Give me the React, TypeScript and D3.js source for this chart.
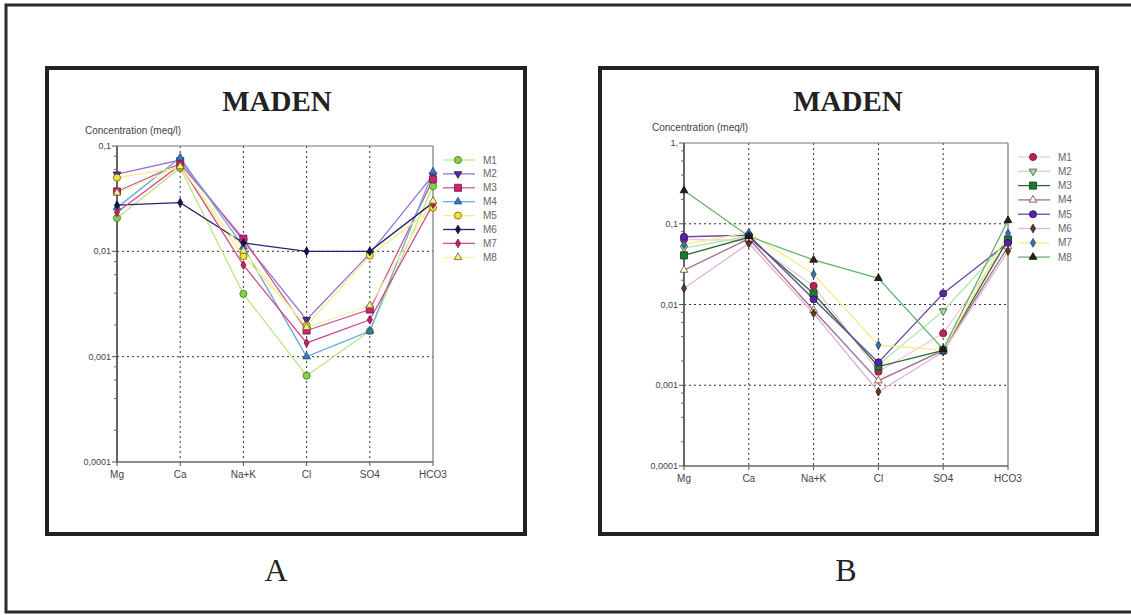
import React from "react";
import * as d3 from "d3";

const categories = ["Mg", "Ca", "Na+K", "Cl", "SO4", "HCO3"];
const seriesNames = ["M1", "M2", "M3", "M4", "M5", "M6", "M7", "M8"];

// Chart A values (meq/l)
const aM1 = [0.0207, 0.062, 0.00395, 0.00066, 0.00175, 0.0416];
const aM2 = [0.054, 0.0736, 0.0125, 0.00224, 0.0095, 0.053];
const aM3 = [0.037, 0.068, 0.0132, 0.00177, 0.0028, 0.0482];
const aM4 = [0.026, 0.0774, 0.011, 0.001, 0.00175, 0.0569];
const aM5 = [0.05, 0.0626, 0.009, 0.00197, 0.0091, 0.026];
const aM6 = [0.0274, 0.029, 0.012, 0.01, 0.01, 0.029];
const aM7 = [0.0235, 0.066, 0.0074, 0.00135, 0.00224, 0.028];
const aM8 = [0.036, 0.064, 0.0101, 0.0019, 0.00306, 0.03];

// Chart B values (meq/l)
const bM1 = [0.064, 0.062, 0.017, 0.00147, 0.0044, 0.06];
const bM2 = [0.05, 0.07, 0.012, 0.0018, 0.0083, 0.062];
const bM3 = [0.0406, 0.068, 0.0137, 0.0017, 0.0027, 0.064];
const bM4 = [0.0267, 0.065, 0.0085, 0.00114, 0.0027, 0.052];
const bM5 = [0.069, 0.072, 0.0116, 0.00192, 0.0137, 0.058];
const bM6 = [0.0159, 0.057, 0.0078, 0.00083, 0.0026, 0.0459];
const bM7 = [0.0555, 0.0775, 0.0237, 0.00315, 0.0027, 0.076];
const bM8 = [0.2577, 0.07, 0.0356, 0.0211, 0.0028, 0.11];

const yTicksA = [0.1, 0.01, 0.001, 0.0001];
const yLabelsA = ["0,1", "0,01", "0,001", "0,0001"];
const yTicksB = [1, 0.1, 0.01, 0.001, 0.0001];
const yLabelsB = ["1,", "0,1", "0,01", "0,001", "0,0001"];

type Style = { line: string; fill: string; stroke: string; shape: string; size: number };

const stylesA: Style[] = [
  { line: "#bfe58a", fill: "#86d04a", stroke: "#3c7a1c", shape: "circle", size: 40 },
  { line: "#9b6fd0", fill: "#4a2f8c", stroke: "#2a1a5a", shape: "tridown", size: 26 },
  { line: "#c95a94", fill: "#c8286e", stroke: "#7a1040", shape: "square", size: 50 },
  { line: "#6aaad8", fill: "#3a78b8", stroke: "#1f4f80", shape: "triangle", size: 26 },
  { line: "#f2ef8a", fill: "#f2e43a", stroke: "#6a6010", shape: "circle", size: 40 },
  { line: "#23246e", fill: "#141650", stroke: "#0a0a30", shape: "diamond", size: 22 },
  { line: "#d2488a", fill: "#c22062", stroke: "#7a1040", shape: "diamond", size: 22 },
  { line: "#f4f2a6", fill: "#f4f090", stroke: "#6a6020", shape: "triangle", size: 26 },
];

const stylesB: Style[] = [
  { line: "#f2c6dc", fill: "#b42656", stroke: "#6a1030", shape: "circle", size: 40 },
  { line: "#b8e2b4", fill: "#a8d8a0", stroke: "#3a5a3a", shape: "tridown", size: 26 },
  { line: "#2e6a30", fill: "#1f7a30", stroke: "#0f3a14", shape: "square", size: 50 },
  { line: "#a07090", fill: "#fff8e8", stroke: "#6a4a3a", shape: "triangle", size: 26 },
  { line: "#6a48a8", fill: "#5424a4", stroke: "#2a1060", shape: "circle", size: 40 },
  { line: "#e2b4d8", fill: "#5c3c22", stroke: "#2e1e10", shape: "diamond", size: 22 },
  { line: "#f2ef8a", fill: "#3a70b0", stroke: "#1f4070", shape: "diamond", size: 22 },
  { line: "#64b468", fill: "#2a1c1c", stroke: "#100a0a", shape: "triangle", size: 26 },
];

const symbolPath = (shape: string, size: number) => {
  const t =
    shape === "circle" ? d3.symbolCircle :
    shape === "square" ? d3.symbolSquare :
    shape === "diamond" ? d3.symbolDiamond :
    d3.symbolTriangle;
  return d3.symbol().type(t).size(size)() as string;
};

type ChartProps = {
  series: number[][];
  styles: Style[];
  yTicks: number[];
  yLabels: string[];
  x0: number; x1: number; y0: number; y1: number;
  titleX: number; titleY: number;
  unitX: number; unitY: number;
  legLine: [number, number]; legMarker: number; legText: number; legY0: number; legStep: number;
};

function Chart(p: ChartProps) {
  const x = d3.scalePoint<string>().domain(categories).range([p.x0, p.x1]);
  const yMin = d3.min(p.yTicks) as number;
  const yMax = d3.max(p.yTicks) as number;
  const y = d3.scaleLog().domain([yMin, yMax]).range([p.y1, p.y0]);
  const line = d3.line<number>().x((_, i) => x(categories[i]) as number).y((v) => y(v));
  const minor: number[] = [];
  for (let k = Math.log10(yMin); k < Math.log10(yMax); k++) {
    [2, 4, 6, 8].forEach((m) => minor.push(m * Math.pow(10, k)));
  }
  const font = "'Liberation Sans', Arial, sans-serif";
  return (
    <g>
      <text x={p.titleX} y={p.titleY} textAnchor="middle" fontFamily="'Liberation Serif', 'Times New Roman', serif" fontWeight="bold" fontSize={29} fill="#222">MADEN</text>
      <text x={p.unitX} y={p.unitY} fontFamily={font} fontSize={10} fill="#444">Concentration (meq/l)</text>
      {p.yTicks.filter((t) => t !== yMin && t !== yMax).map((t) => (
        <line key={"hg" + t} x1={p.x0} x2={p.x1} y1={y(t)} y2={y(t)} stroke="#333" strokeWidth={1} strokeDasharray="2,3" />
      ))}
      {categories.slice(1, -1).map((c) => (
        <line key={"vg" + c} x1={x(c)} x2={x(c)} y1={p.y0} y2={p.y1} stroke="#333" strokeWidth={1} strokeDasharray="2,3" />
      ))}
      <line x1={p.x0} x2={p.x1} y1={p.y0} y2={p.y0} stroke="#777" strokeWidth={1.2} />
      <line x1={p.x1} x2={p.x1} y1={p.y0} y2={p.y1} stroke="#777" strokeWidth={1.2} />
      <line x1={p.x0} x2={p.x1} y1={p.y1} y2={p.y1} stroke="#666" strokeWidth={1.5} />
      <line x1={p.x0} x2={p.x0} y1={p.y0} y2={p.y1} stroke="#555" strokeWidth={1.8} />
      {p.yTicks.map((t, i) => (
        <g key={"yt" + t}>
          <line x1={p.x0 - 5} x2={p.x0} y1={y(t)} y2={y(t)} stroke="#555" strokeWidth={1} />
          <text x={p.x0 - 6} y={y(t) + 3} textAnchor="end" fontFamily={font} fontSize={9} fill="#444">{p.yLabels[i]}</text>
        </g>
      ))}
      {minor.map((t) => (
        <line key={"mt" + t} x1={p.x0 - 3} x2={p.x0} y1={y(t)} y2={y(t)} stroke="#666" strokeWidth={1} />
      ))}
      {categories.map((c) => (
        <g key={"xt" + c}>
          <line x1={x(c)} x2={x(c)} y1={p.y1} y2={p.y1 + 4} stroke="#555" strokeWidth={1} />
          <text x={x(c)} y={p.y1 + 16} textAnchor="middle" fontFamily={font} fontSize={10} fill="#444">{c}</text>
        </g>
      ))}
      {p.series.map((s, i) => (
        <path key={"l" + i} d={line(s) as string} fill="none" stroke={p.styles[i].line} strokeWidth={1.3} />
      ))}
      {p.series.map((s, i) => (
        <g key={"m" + i}>
          {s.map((v, j) => (
            <path key={j} d={symbolPath(p.styles[i].shape, p.styles[i].size)}
              transform={`translate(${x(categories[j])},${y(v)})${p.styles[i].shape === "tridown" ? " rotate(180)" : ""}`}
              fill={p.styles[i].fill} stroke={p.styles[i].stroke} strokeWidth={0.8} />
          ))}
        </g>
      ))}
      {seriesNames.map((n, i) => {
        const ly = p.legY0 + i * p.legStep;
        const st = p.styles[i];
        return (
          <g key={"lg" + n}>
            <line x1={p.legLine[0]} x2={p.legLine[1]} y1={ly} y2={ly} stroke={st.line} strokeWidth={1.3} />
            <path d={symbolPath(st.shape, st.size)} transform={`translate(${p.legMarker},${ly})${st.shape === "tridown" ? " rotate(180)" : ""}`}
              fill={st.fill} stroke={st.stroke} strokeWidth={0.8} />
            <text x={p.legText} y={ly + 3.5} fontFamily={font} fontSize={10} fill="#666">{n}</text>
          </g>
        );
      })}
    </g>
  );
}

export default function App() {
  const seriesA = [aM1, aM2, aM3, aM4, aM5, aM6, aM7, aM8];
  const seriesB = [bM1, bM2, bM3, bM4, bM5, bM6, bM7, bM8];
  return (
    <svg width={1131} height={615} style={{ position: "absolute", left: 0, top: 0, background: "#fff" }}>
      <rect x={0} y={0} width={1131} height={615} fill="#fff" />
      <rect x={6} y={5} width={1140} height={607} fill="none" stroke="#2a2a2a" strokeWidth={3} />
      <rect x={47} y={68} width={478} height={466} fill="#fff" stroke="#222" strokeWidth={4} />
      <rect x={600} y={68} width={497} height={466} fill="#fff" stroke="#222" strokeWidth={4} />
      <text x={276} y={581} textAnchor="middle" fontFamily="'Liberation Serif', 'Times New Roman', serif" fontSize={32} fill="#222">A</text>
      <text x={846} y={581} textAnchor="middle" fontFamily="'Liberation Serif', 'Times New Roman', serif" fontSize={32} fill="#222">B</text>
      <Chart series={seriesA} styles={stylesA} yTicks={yTicksA} yLabels={yLabelsA}
        x0={117} x1={433} y0={146} y1={462} titleX={277} titleY={111} unitX={85} unitY={134}
        legLine={[443, 475]} legMarker={458} legText={483} legY0={160} legStep={13.9} />
      <Chart series={seriesB} styles={stylesB} yTicks={yTicksB} yLabels={yLabelsB}
        x0={684} x1={1008} y0={143} y1={466} titleX={848} titleY={111} unitX={652} unitY={131}
        legLine={[1018, 1050]} legMarker={1033} legText={1058} legY0={157} legStep={14.3} />
    </svg>
  );
}
